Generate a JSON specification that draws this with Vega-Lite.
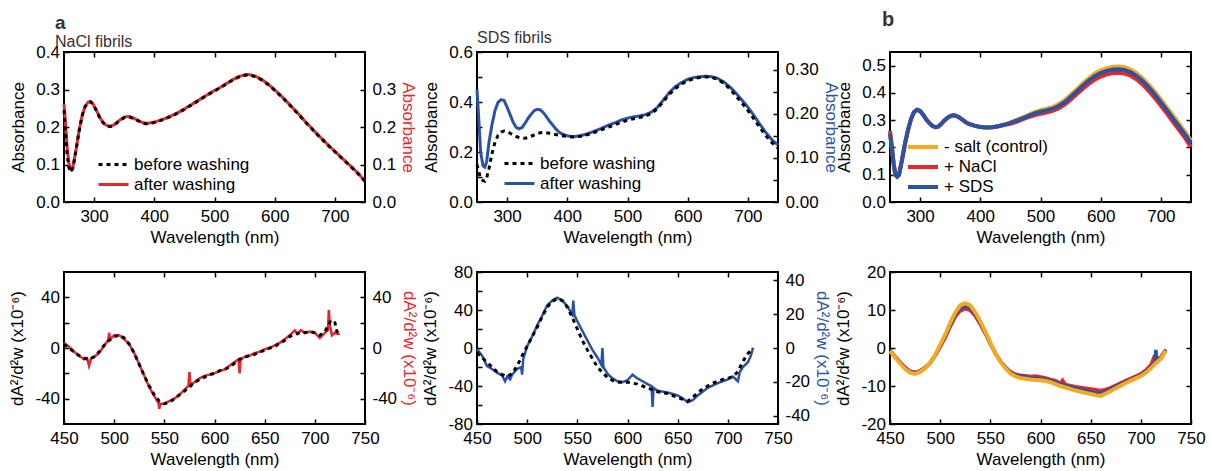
{
"$schema":"https://vega.github.io/schema/vega-lite/v6.json",
"padding":{"left":7,"top":9,"right":8,"bottom":5},
"columns":3,
"spacing":{"row":70,"column":112},
"bounds":"flush",
"resolve":{"scale":{"color":"independent","strokeDash":"independent"},"legend":{"color":"independent","strokeDash":"independent"}},
"datasets":{
"n_after":[{"w":250,"v":0.262},{"w":252,"v":0.22},{"w":255,"v":0.15},{"w":258,"v":0.105},{"w":260,"v":0.09},{"w":262,"v":0.086},{"w":265,"v":0.095},{"w":270,"v":0.14},{"w":275,"v":0.19},{"w":280,"v":0.23},{"w":285,"v":0.255},{"w":290,"v":0.266},{"w":294,"v":0.268},{"w":298,"v":0.262},{"w":302,"v":0.25},{"w":306,"v":0.237},{"w":310,"v":0.224},{"w":315,"v":0.212},{"w":320,"v":0.205},{"w":325,"v":0.202},{"w":330,"v":0.203},{"w":335,"v":0.208},{"w":340,"v":0.215},{"w":345,"v":0.221},{"w":350,"v":0.226},{"w":355,"v":0.228},{"w":360,"v":0.227},{"w":365,"v":0.224},{"w":370,"v":0.22},{"w":375,"v":0.216},{"w":380,"v":0.212},{"w":385,"v":0.21},{"w":390,"v":0.21},{"w":400,"v":0.213},{"w":410,"v":0.218},{"w":420,"v":0.224},{"w":430,"v":0.231},{"w":440,"v":0.239},{"w":450,"v":0.248},{"w":460,"v":0.258},{"w":470,"v":0.268},{"w":480,"v":0.278},{"w":490,"v":0.288},{"w":500,"v":0.297},{"w":510,"v":0.306},{"w":520,"v":0.316},{"w":530,"v":0.326},{"w":540,"v":0.334},{"w":550,"v":0.339},{"w":555,"v":0.34},{"w":560,"v":0.339},{"w":570,"v":0.334},{"w":580,"v":0.325},{"w":590,"v":0.313},{"w":600,"v":0.299},{"w":610,"v":0.284},{"w":620,"v":0.268},{"w":630,"v":0.251},{"w":640,"v":0.234},{"w":650,"v":0.216},{"w":660,"v":0.199},{"w":670,"v":0.182},{"w":680,"v":0.166},{"w":690,"v":0.15},{"w":700,"v":0.135},{"w":710,"v":0.12},{"w":720,"v":0.105},{"w":730,"v":0.09},{"w":740,"v":0.074},{"w":750,"v":0.055}],
"n_before":[{"w":250,"v":0.245},{"w":252,"v":0.2},{"w":255,"v":0.13},{"w":258,"v":0.093},{"w":260,"v":0.083},{"w":262,"v":0.08},{"w":265,"v":0.092},{"w":270,"v":0.138},{"w":275,"v":0.188},{"w":280,"v":0.229},{"w":285,"v":0.254},{"w":290,"v":0.265},{"w":294,"v":0.267},{"w":298,"v":0.261},{"w":302,"v":0.249},{"w":306,"v":0.236},{"w":310,"v":0.223},{"w":315,"v":0.211},{"w":320,"v":0.204},{"w":325,"v":0.201},{"w":330,"v":0.202},{"w":335,"v":0.207},{"w":340,"v":0.214},{"w":345,"v":0.22},{"w":350,"v":0.225},{"w":355,"v":0.227},{"w":360,"v":0.226},{"w":365,"v":0.223},{"w":370,"v":0.219},{"w":375,"v":0.215},{"w":380,"v":0.211},{"w":385,"v":0.209},{"w":390,"v":0.209},{"w":400,"v":0.212},{"w":410,"v":0.217},{"w":420,"v":0.223},{"w":430,"v":0.23},{"w":440,"v":0.238},{"w":450,"v":0.247},{"w":460,"v":0.257},{"w":470,"v":0.267},{"w":480,"v":0.277},{"w":490,"v":0.287},{"w":500,"v":0.296},{"w":510,"v":0.305},{"w":520,"v":0.315},{"w":530,"v":0.325},{"w":540,"v":0.333},{"w":550,"v":0.338},{"w":555,"v":0.339},{"w":560,"v":0.338},{"w":570,"v":0.333},{"w":580,"v":0.324},{"w":590,"v":0.312},{"w":600,"v":0.298},{"w":610,"v":0.283},{"w":620,"v":0.267},{"w":630,"v":0.25},{"w":640,"v":0.233},{"w":650,"v":0.215},{"w":660,"v":0.198},{"w":670,"v":0.181},{"w":680,"v":0.165},{"w":690,"v":0.149},{"w":700,"v":0.134},{"w":710,"v":0.119},{"w":720,"v":0.104},{"w":730,"v":0.089},{"w":740,"v":0.073},{"w":750,"v":0.055}],
"s_before":[{"w":250,"v":0.15},{"w":253,"v":0.12},{"w":256,"v":0.095},{"w":260,"v":0.085},{"w":263,"v":0.083},{"w":266,"v":0.095},{"w":270,"v":0.135},{"w":275,"v":0.195},{"w":280,"v":0.24},{"w":285,"v":0.267},{"w":290,"v":0.28},{"w":295,"v":0.284},{"w":300,"v":0.281},{"w":305,"v":0.275},{"w":310,"v":0.268},{"w":315,"v":0.262},{"w":320,"v":0.258},{"w":325,"v":0.255},{"w":330,"v":0.255},{"w":335,"v":0.258},{"w":340,"v":0.263},{"w":345,"v":0.268},{"w":350,"v":0.273},{"w":355,"v":0.277},{"w":360,"v":0.278},{"w":365,"v":0.277},{"w":370,"v":0.275},{"w":380,"v":0.27},{"w":390,"v":0.265},{"w":400,"v":0.262},{"w":410,"v":0.26},{"w":420,"v":0.262},{"w":430,"v":0.267},{"w":440,"v":0.274},{"w":450,"v":0.283},{"w":460,"v":0.292},{"w":470,"v":0.301},{"w":480,"v":0.31},{"w":490,"v":0.319},{"w":500,"v":0.327},{"w":510,"v":0.333},{"w":520,"v":0.338},{"w":530,"v":0.343},{"w":540,"v":0.355},{"w":550,"v":0.374},{"w":560,"v":0.403},{"w":570,"v":0.432},{"w":580,"v":0.455},{"w":590,"v":0.472},{"w":600,"v":0.485},{"w":610,"v":0.493},{"w":620,"v":0.498},{"w":630,"v":0.5},{"w":640,"v":0.499},{"w":650,"v":0.49},{"w":660,"v":0.475},{"w":670,"v":0.452},{"w":680,"v":0.425},{"w":690,"v":0.396},{"w":700,"v":0.366},{"w":710,"v":0.332},{"w":720,"v":0.297},{"w":730,"v":0.265},{"w":740,"v":0.237},{"w":750,"v":0.215}],
"s_after":[{"w":250,"v":0.255},{"w":253,"v":0.187},{"w":256,"v":0.113},{"w":260,"v":0.082},{"w":263,"v":0.079},{"w":266,"v":0.091},{"w":270,"v":0.136},{"w":275,"v":0.176},{"w":280,"v":0.208},{"w":285,"v":0.226},{"w":290,"v":0.232},{"w":295,"v":0.23},{"w":300,"v":0.215},{"w":305,"v":0.198},{"w":310,"v":0.181},{"w":315,"v":0.169},{"w":320,"v":0.166},{"w":325,"v":0.169},{"w":330,"v":0.179},{"w":335,"v":0.19},{"w":340,"v":0.199},{"w":345,"v":0.207},{"w":350,"v":0.21},{"w":355,"v":0.209},{"w":360,"v":0.203},{"w":365,"v":0.194},{"w":370,"v":0.184},{"w":375,"v":0.176},{"w":380,"v":0.167},{"w":385,"v":0.16},{"w":390,"v":0.155},{"w":400,"v":0.15},{"w":410,"v":0.148},{"w":420,"v":0.15},{"w":430,"v":0.153},{"w":440,"v":0.158},{"w":450,"v":0.163},{"w":460,"v":0.169},{"w":470,"v":0.175},{"w":480,"v":0.18},{"w":490,"v":0.186},{"w":500,"v":0.19},{"w":510,"v":0.193},{"w":520,"v":0.195},{"w":530,"v":0.198},{"w":540,"v":0.204},{"w":550,"v":0.215},{"w":560,"v":0.232},{"w":570,"v":0.249},{"w":580,"v":0.262},{"w":590,"v":0.271},{"w":600,"v":0.278},{"w":610,"v":0.282},{"w":620,"v":0.284},{"w":630,"v":0.285},{"w":640,"v":0.284},{"w":650,"v":0.28},{"w":660,"v":0.272},{"w":670,"v":0.261},{"w":680,"v":0.247},{"w":690,"v":0.231},{"w":700,"v":0.215},{"w":710,"v":0.196},{"w":720,"v":0.176},{"w":730,"v":0.157},{"w":740,"v":0.141},{"w":750,"v":0.129}],
"c_sds":[{"w":250,"v":0.25},{"w":253,"v":0.2},{"w":256,"v":0.14},{"w":259,"v":0.1},{"w":262,"v":0.093},{"w":265,"v":0.1},{"w":270,"v":0.155},{"w":275,"v":0.215},{"w":280,"v":0.265},{"w":285,"v":0.305},{"w":290,"v":0.33},{"w":295,"v":0.338},{"w":300,"v":0.334},{"w":305,"v":0.32},{"w":310,"v":0.303},{"w":315,"v":0.29},{"w":320,"v":0.28},{"w":325,"v":0.274},{"w":330,"v":0.276},{"w":335,"v":0.286},{"w":340,"v":0.298},{"w":345,"v":0.308},{"w":350,"v":0.315},{"w":355,"v":0.318},{"w":360,"v":0.316},{"w":365,"v":0.31},{"w":370,"v":0.302},{"w":375,"v":0.294},{"w":380,"v":0.287},{"w":390,"v":0.28},{"w":400,"v":0.275},{"w":410,"v":0.273},{"w":420,"v":0.274},{"w":430,"v":0.278},{"w":440,"v":0.283},{"w":450,"v":0.29},{"w":460,"v":0.298},{"w":470,"v":0.307},{"w":480,"v":0.316},{"w":490,"v":0.325},{"w":500,"v":0.331},{"w":510,"v":0.336},{"w":520,"v":0.342},{"w":530,"v":0.352},{"w":540,"v":0.366},{"w":550,"v":0.385},{"w":560,"v":0.405},{"w":570,"v":0.426},{"w":580,"v":0.445},{"w":590,"v":0.461},{"w":600,"v":0.473},{"w":610,"v":0.481},{"w":620,"v":0.486},{"w":630,"v":0.487},{"w":640,"v":0.484},{"w":650,"v":0.476},{"w":660,"v":0.462},{"w":670,"v":0.443},{"w":680,"v":0.42},{"w":690,"v":0.394},{"w":700,"v":0.366},{"w":710,"v":0.337},{"w":720,"v":0.307},{"w":730,"v":0.278},{"w":740,"v":0.248},{"w":750,"v":0.215}],
"c_ctrl":[{"w":250,"v":0.25},{"w":253,"v":0.2},{"w":256,"v":0.14},{"w":259,"v":0.1},{"w":262,"v":0.093},{"w":265,"v":0.1},{"w":270,"v":0.155},{"w":275,"v":0.215},{"w":280,"v":0.265},{"w":285,"v":0.305},{"w":290,"v":0.33},{"w":295,"v":0.338},{"w":300,"v":0.334},{"w":305,"v":0.32},{"w":310,"v":0.303},{"w":315,"v":0.29},{"w":320,"v":0.28},{"w":325,"v":0.274},{"w":330,"v":0.276},{"w":335,"v":0.286},{"w":340,"v":0.298},{"w":345,"v":0.308},{"w":350,"v":0.315},{"w":355,"v":0.318},{"w":360,"v":0.316},{"w":365,"v":0.31},{"w":370,"v":0.302},{"w":375,"v":0.294},{"w":380,"v":0.287},{"w":390,"v":0.28},{"w":400,"v":0.275},{"w":410,"v":0.273},{"w":420,"v":0.274},{"w":430,"v":0.278},{"w":440,"v":0.283},{"w":450,"v":0.292},{"w":460,"v":0.301},{"w":470,"v":0.31},{"w":480,"v":0.32},{"w":490,"v":0.33},{"w":500,"v":0.337},{"w":510,"v":0.342},{"w":520,"v":0.348},{"w":530,"v":0.359},{"w":540,"v":0.373},{"w":550,"v":0.393},{"w":560,"v":0.413},{"w":570,"v":0.435},{"w":580,"v":0.454},{"w":590,"v":0.471},{"w":600,"v":0.483},{"w":610,"v":0.491},{"w":620,"v":0.496},{"w":630,"v":0.497},{"w":640,"v":0.494},{"w":650,"v":0.486},{"w":660,"v":0.472},{"w":670,"v":0.453},{"w":680,"v":0.43},{"w":690,"v":0.404},{"w":700,"v":0.376},{"w":710,"v":0.347},{"w":720,"v":0.317},{"w":730,"v":0.288},{"w":740,"v":0.258},{"w":750,"v":0.225}],
"c_nacl":[{"w":250,"v":0.26},{"w":253,"v":0.205},{"w":256,"v":0.142},{"w":259,"v":0.1},{"w":262,"v":0.093},{"w":265,"v":0.1},{"w":270,"v":0.155},{"w":275,"v":0.215},{"w":280,"v":0.265},{"w":285,"v":0.305},{"w":290,"v":0.33},{"w":295,"v":0.338},{"w":300,"v":0.334},{"w":305,"v":0.32},{"w":310,"v":0.303},{"w":315,"v":0.29},{"w":320,"v":0.28},{"w":325,"v":0.274},{"w":330,"v":0.276},{"w":335,"v":0.286},{"w":340,"v":0.298},{"w":345,"v":0.308},{"w":350,"v":0.315},{"w":355,"v":0.318},{"w":360,"v":0.316},{"w":365,"v":0.31},{"w":370,"v":0.302},{"w":375,"v":0.294},{"w":380,"v":0.287},{"w":390,"v":0.28},{"w":400,"v":0.275},{"w":410,"v":0.273},{"w":420,"v":0.274},{"w":430,"v":0.278},{"w":440,"v":0.283},{"w":450,"v":0.287},{"w":460,"v":0.294},{"w":470,"v":0.303},{"w":480,"v":0.311},{"w":490,"v":0.318},{"w":500,"v":0.323},{"w":510,"v":0.328},{"w":520,"v":0.334},{"w":530,"v":0.343},{"w":540,"v":0.357},{"w":550,"v":0.375},{"w":560,"v":0.395},{"w":570,"v":0.414},{"w":580,"v":0.433},{"w":590,"v":0.448},{"w":600,"v":0.46},{"w":610,"v":0.468},{"w":620,"v":0.473},{"w":630,"v":0.474},{"w":640,"v":0.471},{"w":650,"v":0.463},{"w":660,"v":0.449},{"w":670,"v":0.43},{"w":680,"v":0.407},{"w":690,"v":0.381},{"w":700,"v":0.353},{"w":710,"v":0.324},{"w":720,"v":0.294},{"w":730,"v":0.265},{"w":740,"v":0.235},{"w":750,"v":0.202}],
"dn_before":[{"w":450,"v":3},{"w":455,"v":0},{"w":460,"v":-3},{"w":465,"v":-6},{"w":470,"v":-8},{"w":475,"v":-9},{"w":480,"v":-7},{"w":485,"v":-3},{"w":490,"v":2},{"w":495,"v":6},{"w":500,"v":9},{"w":505,"v":10},{"w":510,"v":8},{"w":515,"v":3},{"w":520,"v":-4},{"w":525,"v":-13},{"w":530,"v":-22},{"w":535,"v":-30},{"w":540,"v":-37},{"w":545,"v":-42},{"w":550,"v":-44},{"w":555,"v":-43},{"w":560,"v":-40},{"w":565,"v":-37},{"w":570,"v":-34},{"w":575,"v":-31},{"w":580,"v":-27},{"w":585,"v":-25},{"w":590,"v":-23},{"w":595,"v":-21},{"w":600,"v":-20},{"w":605,"v":-18},{"w":610,"v":-17},{"w":615,"v":-15},{"w":620,"v":-12},{"w":625,"v":-9},{"w":630,"v":-7},{"w":635,"v":-6},{"w":640,"v":-5},{"w":645,"v":-3},{"w":650,"v":-2},{"w":655,"v":0},{"w":660,"v":1},{"w":665,"v":4},{"w":670,"v":6},{"w":675,"v":9},{"w":680,"v":11},{"w":685,"v":12},{"w":690,"v":12},{"w":695,"v":13},{"w":700,"v":12},{"w":705,"v":10},{"w":710,"v":13},{"w":713,"v":17},{"w":716,"v":22},{"w":720,"v":20},{"w":722,"v":13},{"w":725,"v":11}],
"dn_after":[{"w":450,"v":4},{"w":455,"v":1},{"w":460,"v":-3},{"w":465,"v":-6},{"w":470,"v":-9},{"w":473,"v":-8},{"w":475,"v":-14},{"w":477,"v":-8},{"w":480,"v":-7},{"w":485,"v":-4},{"w":490,"v":2},{"w":494,"v":6},{"w":495,"v":12},{"w":496,"v":7},{"w":500,"v":10},{"w":505,"v":10},{"w":510,"v":7},{"w":515,"v":3},{"w":520,"v":-4},{"w":525,"v":-13},{"w":530,"v":-22},{"w":535,"v":-31},{"w":540,"v":-38},{"w":544,"v":-43},{"w":545,"v":-48},{"w":546,"v":-44},{"w":550,"v":-44},{"w":555,"v":-42},{"w":560,"v":-40},{"w":565,"v":-37},{"w":570,"v":-33},{"w":574,"v":-30},{"w":575,"v":-19},{"w":576,"v":-29},{"w":580,"v":-27},{"w":585,"v":-24},{"w":590,"v":-22},{"w":595,"v":-21},{"w":600,"v":-20},{"w":605,"v":-18},{"w":610,"v":-17},{"w":615,"v":-14},{"w":620,"v":-11},{"w":624,"v":-9},{"w":625,"v":-20},{"w":626,"v":-9},{"w":630,"v":-7},{"w":635,"v":-6},{"w":640,"v":-4},{"w":645,"v":-3},{"w":650,"v":-1},{"w":655,"v":0},{"w":660,"v":2},{"w":665,"v":4},{"w":670,"v":7},{"w":675,"v":10},{"w":680,"v":14},{"w":683,"v":11},{"w":686,"v":14},{"w":690,"v":12},{"w":695,"v":13},{"w":700,"v":12},{"w":705,"v":8},{"w":710,"v":12},{"w":713,"v":14},{"w":714,"v":30},{"w":715,"v":18},{"w":717,"v":10},{"w":720,"v":12},{"w":723,"v":11},{"w":725,"v":11}],
"ds_before":[{"w":450,"v":-5},{"w":455,"v":-10},{"w":460,"v":-15},{"w":465,"v":-20},{"w":470,"v":-25},{"w":475,"v":-28},{"w":480,"v":-30},{"w":485,"v":-27},{"w":490,"v":-19},{"w":495,"v":-8},{"w":500,"v":2},{"w":505,"v":12},{"w":510,"v":22},{"w":515,"v":33},{"w":520,"v":43},{"w":525,"v":49},{"w":530,"v":52},{"w":535,"v":50},{"w":540,"v":43},{"w":545,"v":32},{"w":550,"v":20},{"w":555,"v":8},{"w":560,"v":-2},{"w":565,"v":-11},{"w":570,"v":-20},{"w":575,"v":-26},{"w":580,"v":-31},{"w":585,"v":-34},{"w":590,"v":-36},{"w":595,"v":-36},{"w":600,"v":-36},{"w":605,"v":-37},{"w":610,"v":-38},{"w":615,"v":-40},{"w":620,"v":-42},{"w":625,"v":-44},{"w":630,"v":-46},{"w":635,"v":-47},{"w":640,"v":-48},{"w":645,"v":-50},{"w":650,"v":-52},{"w":655,"v":-54},{"w":660,"v":-56},{"w":665,"v":-52},{"w":670,"v":-47},{"w":675,"v":-43},{"w":680,"v":-40},{"w":685,"v":-37},{"w":690,"v":-35},{"w":695,"v":-33},{"w":700,"v":-32},{"w":705,"v":-30},{"w":710,"v":-25},{"w":715,"v":-14},{"w":720,"v":-6},{"w":725,"v":0}],
"ds_after":[{"w":450,"v":-0.6},{"w":455,"v":-4.5},{"w":460,"v":-10.7},{"w":465,"v":-12.4},{"w":470,"v":-14.6},{"w":475,"v":-16.3},{"w":478,"v":-19.7},{"w":480,"v":-16.9},{"w":483,"v":-18.6},{"w":485,"v":-15.8},{"w":490,"v":-12.4},{"w":494,"v":-11.3},{"w":495,"v":-15.8},{"w":496,"v":-6.8},{"w":500,"v":1.1},{"w":505,"v":6.8},{"w":510,"v":13.5},{"w":515,"v":19.1},{"w":520,"v":25.3},{"w":525,"v":28.1},{"w":530,"v":29.8},{"w":535,"v":28.1},{"w":540,"v":24.8},{"w":545,"v":19.7},{"w":546,"v":28.1},{"w":547,"v":19.7},{"w":550,"v":15.8},{"w":555,"v":10.1},{"w":560,"v":4.5},{"w":565,"v":-1.1},{"w":570,"v":-5.6},{"w":574,"v":-10.1},{"w":575,"v":0},{"w":576,"v":-11.3},{"w":580,"v":-15.2},{"w":585,"v":-18},{"w":590,"v":-19.7},{"w":595,"v":-20.3},{"w":600,"v":-19.1},{"w":605,"v":-15.8},{"w":610,"v":-18},{"w":615,"v":-19.7},{"w":620,"v":-21.4},{"w":624,"v":-22.5},{"w":625,"v":-34.9},{"w":626,"v":-23.6},{"w":630,"v":-25.3},{"w":640,"v":-26.4},{"w":650,"v":-28.1},{"w":655,"v":-29.8},{"w":660,"v":-32.1},{"w":665,"v":-30.9},{"w":670,"v":-28.1},{"w":680,"v":-23.6},{"w":690,"v":-20.8},{"w":700,"v":-18.6},{"w":705,"v":-16.9},{"w":710,"v":-19.7},{"w":712,"v":-14.1},{"w":715,"v":-11.3},{"w":720,"v":-8.4},{"w":723,"v":-4.5},{"w":725,"v":0}],
"dc_sds":[{"w":450,"v":-0.7},{"w":455,"v":-2.3},{"w":460,"v":-3.8},{"w":465,"v":-5.2},{"w":470,"v":-6.2},{"w":475,"v":-6.5},{"w":480,"v":-6.1},{"w":485,"v":-5.2},{"w":490,"v":-4},{"w":495,"v":-2},{"w":500,"v":0.4},{"w":505,"v":3},{"w":510,"v":6},{"w":515,"v":8.7},{"w":520,"v":10.4},{"w":525,"v":11},{"w":530,"v":10.5},{"w":535,"v":8.8},{"w":540,"v":6.5},{"w":545,"v":4},{"w":550,"v":1.2},{"w":555,"v":-1.4},{"w":560,"v":-3.5},{"w":565,"v":-5.1},{"w":570,"v":-6.4},{"w":575,"v":-7.1},{"w":580,"v":-7.4},{"w":585,"v":-7.6},{"w":590,"v":-7.8},{"w":595,"v":-7.9},{"w":600,"v":-8.1},{"w":605,"v":-8.3},{"w":610,"v":-8.6},{"w":615,"v":-9},{"w":620,"v":-9.5},{"w":625,"v":-9.9},{"w":630,"v":-10.3},{"w":635,"v":-10.6},{"w":640,"v":-10.9},{"w":645,"v":-11.2},{"w":650,"v":-11.5},{"w":655,"v":-11.8},{"w":660,"v":-11.9},{"w":665,"v":-11.4},{"w":670,"v":-10.8},{"w":675,"v":-10.1},{"w":680,"v":-9.5},{"w":685,"v":-8.9},{"w":690,"v":-8.3},{"w":695,"v":-7.7},{"w":700,"v":-7.1},{"w":705,"v":-6.2},{"w":710,"v":-5},{"w":714,"v":-3.8},{"w":715,"v":-0.5},{"w":716,"v":-3.5},{"w":720,"v":-2.5},{"w":725,"v":-0.5}],
"dc_ctrl":[{"w":450,"v":-0.8},{"w":455,"v":-2.5},{"w":460,"v":-4},{"w":465,"v":-5.5},{"w":470,"v":-6.5},{"w":475,"v":-6.8},{"w":480,"v":-6.3},{"w":485,"v":-5.3},{"w":490,"v":-4},{"w":495,"v":-1.8},{"w":500,"v":0.8},{"w":505,"v":3.5},{"w":510,"v":6.6},{"w":515,"v":9.3},{"w":520,"v":11.2},{"w":525,"v":11.8},{"w":530,"v":11.2},{"w":535,"v":9.4},{"w":540,"v":7},{"w":545,"v":4.3},{"w":550,"v":1.4},{"w":555,"v":-1.4},{"w":560,"v":-3.6},{"w":565,"v":-5.3},{"w":570,"v":-6.7},{"w":575,"v":-7.5},{"w":580,"v":-7.9},{"w":585,"v":-8.1},{"w":590,"v":-8.3},{"w":595,"v":-8.4},{"w":600,"v":-8.5},{"w":605,"v":-8.7},{"w":610,"v":-9},{"w":615,"v":-9.5},{"w":620,"v":-10},{"w":625,"v":-10.4},{"w":630,"v":-10.8},{"w":635,"v":-11.2},{"w":640,"v":-11.5},{"w":645,"v":-11.8},{"w":650,"v":-12.1},{"w":655,"v":-12.4},{"w":660,"v":-12.6},{"w":665,"v":-12},{"w":670,"v":-11.3},{"w":675,"v":-10.6},{"w":680,"v":-9.9},{"w":685,"v":-9.2},{"w":690,"v":-8.6},{"w":695,"v":-8},{"w":700,"v":-7.4},{"w":705,"v":-6.5},{"w":710,"v":-5.3},{"w":715,"v":-4},{"w":720,"v":-2.8},{"w":725,"v":-0.7}],
"dc_nacl":[{"w":450,"v":-0.6},{"w":455,"v":-2.2},{"w":460,"v":-3.7},{"w":465,"v":-5.1},{"w":470,"v":-6.1},{"w":475,"v":-6.4},{"w":480,"v":-6},{"w":485,"v":-5.1},{"w":490,"v":-3.9},{"w":495,"v":-2},{"w":500,"v":0.2},{"w":505,"v":2.7},{"w":510,"v":5.6},{"w":515,"v":8.2},{"w":520,"v":9.8},{"w":525,"v":10.3},{"w":530,"v":9.9},{"w":535,"v":8.4},{"w":540,"v":6.2},{"w":545,"v":3.8},{"w":550,"v":1.1},{"w":555,"v":-1.4},{"w":560,"v":-3.5},{"w":565,"v":-5},{"w":570,"v":-6.2},{"w":575,"v":-6.9},{"w":580,"v":-7.2},{"w":585,"v":-7.3},{"w":590,"v":-7.5},{"w":595,"v":-7.4},{"w":600,"v":-7.6},{"w":605,"v":-7.9},{"w":610,"v":-8.3},{"w":615,"v":-8.6},{"w":620,"v":-9.3},{"w":622,"v":-8.5},{"w":625,"v":-9.6},{"w":630,"v":-9.9},{"w":635,"v":-10.2},{"w":640,"v":-10.4},{"w":645,"v":-10.6},{"w":650,"v":-10.8},{"w":655,"v":-11},{"w":660,"v":-11.2},{"w":665,"v":-10.9},{"w":670,"v":-10.4},{"w":675,"v":-9.8},{"w":680,"v":-9.2},{"w":685,"v":-8.6},{"w":690,"v":-8},{"w":695,"v":-7.4},{"w":700,"v":-6.8},{"w":705,"v":-5.8},{"w":710,"v":-4.5},{"w":713,"v":-2.5},{"w":716,"v":-3.2},{"w":720,"v":-2.3},{"w":725,"v":-0.4}]
},
"concat":[
{"width":301,"height":150,
 "title":{"text":"a","subtitle":"\u2002NaCl fibrils","frame":"group","fontSize":19,"fontWeight":"bold","color":"#333333","subtitleFontSize":16,"subtitleColor":"#333333","subtitleFont":"Liberation Sans","subtitlePadding":1,"dx":-9,"offset":-6.5,"anchor":"start"},
 "layer":[
  {"data":{"name":"n_after"},"mark":{"type":"line","strokeWidth":3},
   "encoding":{
    "x":{"field":"w","type":"quantitative","scale":{"domain":[250,750],"nice":false,"zero":false},"axis":{"orient":"bottom","title":"Wavelength (nm)","values":[300,400,500,600,700],"format":"d"}},
    "y":{"field":"v","type":"quantitative","scale":{"domain":[0,0.4],"nice":false},"axis":{"orient":"right","title":"Absorbance","titleColor":"#e8262b","labelPadding":12,"titlePadding":3,"values":[0,0.1,0.2,0.3],"format":".1f"}},
    "color":{"datum":"after washing","type":"nominal","scale":{"domain":["before washing","after washing"],"range":["#000000","#e8262b"]},"legend":{"title":null,"orient":"none","legendX":38,"legendY":101,"rowPadding":-2}},
    "strokeDash":{"datum":"after washing","type":"nominal","scale":{"domain":["before washing","after washing"],"range":[[4,4],[1,0]]},"legend":{"title":null,"orient":"none","legendX":38,"legendY":101,"rowPadding":-2}}}},
  {"data":{"name":"n_before"},"mark":{"type":"line","strokeWidth":3},
   "encoding":{
    "x":{"field":"w","type":"quantitative","scale":{"domain":[250,750],"nice":false,"zero":false},"axis":{"orient":"top","labels":false,"title":null,"values":[300,400,500,600,700]}},
    "y":{"field":"v","type":"quantitative","scale":{"domain":[0,0.4],"nice":false},"axis":{"orient":"left","title":"Absorbance","values":[0,0.1,0.2,0.3,0.4],"format":".1f"}},
    "color":{"datum":"before washing","type":"nominal","scale":{"domain":["before washing","after washing"],"range":["#000000","#e8262b"]},"legend":{"title":null,"orient":"none","legendX":38,"legendY":101,"rowPadding":-2}},
    "strokeDash":{"datum":"before washing","type":"nominal","scale":{"domain":["before washing","after washing"],"range":[[4,4],[1,0]]},"legend":{"title":null,"orient":"none","legendX":38,"legendY":101,"rowPadding":-2}}}}
 ],
 "resolve":{"axis":{"x":"independent","y":"independent"}}
},
{"width":301,"height":150,
 "title":{"text":"SDS fibrils","frame":"group","fontSize":16,"fontWeight":"normal","color":"#333333","offset":-3,"anchor":"start"},
 "layer":[
  {"data":{"name":"s_after"},"mark":{"type":"line","strokeWidth":3},
   "encoding":{
    "x":{"field":"w","type":"quantitative","scale":{"domain":[250,750],"nice":false,"zero":false},"axis":{"orient":"bottom","title":"Wavelength (nm)","values":[300,400,500,600,700],"format":"d"}},
    "y":{"field":"v","type":"quantitative","scale":{"domain":[0,0.34],"nice":false},"axis":{"orient":"right","title":"Absorbance","titleColor":"#2b53a3","labelPadding":12,"titlePadding":3,"values":[0,0.05,0.1,0.15,0.2,0.25,0.3],"labelExpr":"round(datum.value*100) % 10 == 0 ? format(datum.value, '.2f') : ''"}},
    "color":{"datum":"after washing","type":"nominal","scale":{"domain":["before washing","after washing"],"range":["#000000","#2b53a3"]},"legend":{"title":null,"orient":"none","legendX":31,"legendY":100,"rowPadding":-5}},
    "strokeDash":{"datum":"after washing","type":"nominal","scale":{"domain":["before washing","after washing"],"range":[[4,4],[1,0]]},"legend":{"title":null,"orient":"none","legendX":31,"legendY":100,"rowPadding":-5}}}},
  {"data":{"name":"s_before"},"mark":{"type":"line","strokeWidth":3},
   "encoding":{
    "x":{"field":"w","type":"quantitative","scale":{"domain":[250,750],"nice":false,"zero":false},"axis":{"orient":"top","labels":false,"title":null,"values":[300,400,500,600,700]}},
    "y":{"field":"v","type":"quantitative","scale":{"domain":[0,0.6],"nice":false},"axis":{"orient":"left","title":"Absorbance","values":[0,0.1,0.2,0.3,0.4,0.5,0.6],"labelExpr":"round(datum.value*10) % 2 == 0 ? format(datum.value, '.1f') : ''"}},
    "color":{"datum":"before washing","type":"nominal","scale":{"domain":["before washing","after washing"],"range":["#000000","#2b53a3"]},"legend":{"title":null,"orient":"none","legendX":31,"legendY":100,"rowPadding":-5}},
    "strokeDash":{"datum":"before washing","type":"nominal","scale":{"domain":["before washing","after washing"],"range":[[4,4],[1,0]]},"legend":{"title":null,"orient":"none","legendX":31,"legendY":100,"rowPadding":-5}}}}
 ],
 "resolve":{"axis":{"x":"independent","y":"independent"},"scale":{"y":"independent"}}
},
{"width":301,"height":150,
 "title":{"text":"b","frame":"group","fontSize":20,"fontWeight":"bold","color":"#333333","dx":-8,"offset":21,"anchor":"start"},
 "layer":[
  {"data":{"name":"c_ctrl"},"mark":{"type":"line","strokeWidth":4},
   "encoding":{
    "x":{"field":"w","type":"quantitative","scale":{"domain":[250,750],"nice":false,"zero":false},"axis":{"orient":"bottom","title":"Wavelength (nm)","values":[300,400,500,600,700],"format":"d"}},
    "y":{"field":"v","type":"quantitative","scale":{"domain":[0,0.55],"nice":false},"axis":{"orient":"left","title":"Absorbance","values":[0,0.1,0.2,0.3,0.4,0.5],"format":".1f"}},
    "color":{"datum":"- salt (control)","type":"nominal","scale":{"domain":["- salt (control)","+ NaCl","+ SDS"],"range":["#f5a91e","#e8262b","#2b53a3"]},"legend":{"title":null,"orient":"none","legendX":21,"legendY":83,"symbolStrokeWidth":4,"rowPadding":-0.5}}}},
  {"data":{"name":"c_nacl"},"mark":{"type":"line","strokeWidth":4},
   "encoding":{
    "x":{"field":"w","type":"quantitative","scale":{"domain":[250,750],"nice":false,"zero":false},"axis":{"orient":"top","labels":false,"title":null,"values":[300,400,500,600,700]}},
    "y":{"field":"v","type":"quantitative","scale":{"domain":[0,0.55],"nice":false},"axis":{"orient":"right","labels":false,"title":null,"values":[0,0.1,0.2,0.3,0.4,0.5]}},
    "color":{"datum":"+ NaCl","type":"nominal","scale":{"domain":["- salt (control)","+ NaCl","+ SDS"],"range":["#f5a91e","#e8262b","#2b53a3"]},"legend":{"title":null,"orient":"none","legendX":21,"legendY":83,"symbolStrokeWidth":4,"rowPadding":-0.5}}}},
  {"data":{"name":"c_sds"},"mark":{"type":"line","strokeWidth":4},
   "encoding":{
    "x":{"field":"w","type":"quantitative","scale":{"domain":[250,750],"nice":false,"zero":false},"axis":null},
    "y":{"field":"v","type":"quantitative","scale":{"domain":[0,0.55],"nice":false},"axis":null},
    "color":{"datum":"+ SDS","type":"nominal","scale":{"domain":["- salt (control)","+ NaCl","+ SDS"],"range":["#f5a91e","#e8262b","#2b53a3"]},"legend":{"title":null,"orient":"none","legendX":21,"legendY":83,"symbolStrokeWidth":4,"rowPadding":-0.5}}}}
 ],
 "resolve":{"axis":{"x":"independent","y":"independent"}}
},
{"width":301,"height":152,
 "layer":[
  {"data":{"name":"dn_after"},"mark":{"type":"line","strokeWidth":2.5,"color":"#e8262b"},
   "encoding":{
    "x":{"field":"w","type":"quantitative","scale":{"domain":[450,750],"nice":false,"zero":false},"axis":{"orient":"bottom","title":"Wavelength (nm)","values":[450,500,550,600,650,700,750],"format":"d"}},
    "y":{"field":"v","type":"quantitative","scale":{"domain":[-60,60],"nice":false},"axis":{"orient":"right","title":"dA²/d²w (x10⁻⁶)","titleColor":"#e8262b","labelPadding":12,"titlePadding":3,"values":[-40,-20,0,20,40],"labelExpr":"datum.value % 40 == 0 ? '' + datum.value : ''"}}}},
  {"data":{"name":"dn_before"},"mark":{"type":"line","strokeWidth":3,"color":"#000000","strokeDash":[4,4]},
   "encoding":{
    "x":{"field":"w","type":"quantitative","scale":{"domain":[450,750],"nice":false,"zero":false},"axis":{"orient":"top","labels":false,"title":null,"values":[500,550,600,650,700]}},
    "y":{"field":"v","type":"quantitative","scale":{"domain":[-60,60],"nice":false},"axis":{"orient":"left","title":"dA²/d²w (x10⁻⁶)","values":[-40,-20,0,20,40],"labelExpr":"datum.value % 40 == 0 ? '' + datum.value : ''"}}}}
 ],
 "resolve":{"axis":{"x":"independent","y":"independent"}}
},
{"width":301,"height":152,
 "layer":[
  {"data":{"name":"ds_after"},"mark":{"type":"line","strokeWidth":2.5,"color":"#2b53a3"},
   "encoding":{
    "x":{"field":"w","type":"quantitative","scale":{"domain":[450,750],"nice":false,"zero":false},"axis":{"orient":"bottom","title":"Wavelength (nm)","values":[450,500,550,600,650,700,750],"format":"d"}},
    "y":{"field":"v","type":"quantitative","scale":{"domain":[-45,45],"nice":false},"axis":{"orient":"right","title":"dA²/d²w (x10⁻⁶)","titleColor":"#2b53a3","labelPadding":12,"titlePadding":3,"values":[-40,-20,0,20,40],"labelExpr":"'' + datum.value"}}}},
  {"data":{"name":"ds_before"},"mark":{"type":"line","strokeWidth":3,"color":"#000000","strokeDash":[4,4]},
   "encoding":{
    "x":{"field":"w","type":"quantitative","scale":{"domain":[450,750],"nice":false,"zero":false},"axis":{"orient":"top","labels":false,"title":null,"values":[500,550,600,650,700]}},
    "y":{"field":"v","type":"quantitative","scale":{"domain":[-80,80],"nice":false},"axis":{"orient":"left","title":"dA²/d²w (x10⁻⁶)","values":[-80,-60,-40,-20,0,20,40,60,80],"labelExpr":"datum.value % 40 == 0 ? '' + datum.value : ''"}}}}
 ],
 "resolve":{"axis":{"x":"independent","y":"independent"},"scale":{"y":"independent"}}
},
{"width":301,"height":152,
 "layer":[
  {"data":{"name":"dc_nacl"},"mark":{"type":"line","strokeWidth":3.5,"color":"#e8262b"},
   "encoding":{
    "x":{"field":"w","type":"quantitative","scale":{"domain":[450,750],"nice":false,"zero":false},"axis":{"orient":"top","labels":false,"title":null,"values":[500,550,600,650,700]}},
    "y":{"field":"v","type":"quantitative","scale":{"domain":[-20,20],"nice":false},"axis":{"orient":"right","labels":false,"title":null,"values":[-10,0,10]}}}},
  {"data":{"name":"dc_sds"},"mark":{"type":"line","strokeWidth":3.5,"color":"#2b53a3"},
   "encoding":{
    "x":{"field":"w","type":"quantitative","scale":{"domain":[450,750],"nice":false,"zero":false},"axis":null},
    "y":{"field":"v","type":"quantitative","scale":{"domain":[-20,20],"nice":false},"axis":null}}},
  {"data":{"name":"dc_ctrl"},"mark":{"type":"line","strokeWidth":4,"color":"#f5a91e"},
   "encoding":{
    "x":{"field":"w","type":"quantitative","scale":{"domain":[450,750],"nice":false,"zero":false},"axis":{"orient":"bottom","title":"Wavelength (nm)","values":[450,500,550,600,650,700,750],"format":"d"}},
    "y":{"field":"v","type":"quantitative","scale":{"domain":[-20,20],"nice":false},"axis":{"orient":"left","title":"dA²/d²w (x10⁻⁶)","values":[-20,-10,0,10,20],"labelExpr":"'' + datum.value"}}}}
 ],
 "resolve":{"axis":{"x":"independent","y":"independent"}}
}
],
"config":{
 "font":"Liberation Sans",
 "view":{"stroke":"#000000","strokeWidth":2},
 "axis":{"domain":false,"grid":false,"ticks":true,"tickColor":"#000000","tickWidth":1.5,"tickSize":-5,"labelFont":"Liberation Sans","labelFontSize":17,"labelColor":"#000000","titleFont":"Liberation Sans","titleFontSize":17,"titleFontWeight":"normal","titleColor":"#000000","titlePadding":5,"labelOverlap":false,"labelFlush":false},
 "axisX":{"labelPadding":11.5},
 "axisY":{"labelPadding":9.5,"titlePadding":8},
 "legend":{"labelFont":"Liberation Sans","labelFontSize":17,"labelColor":"#000000","symbolType":"M-1.5,0L1.5,0","symbolSize":400,"symbolStrokeWidth":3,"symbolFillColor":"transparent","rowPadding":0,"labelOffset":9},
 "title":{"font":"Liberation Sans","anchor":"start"}
}
}
